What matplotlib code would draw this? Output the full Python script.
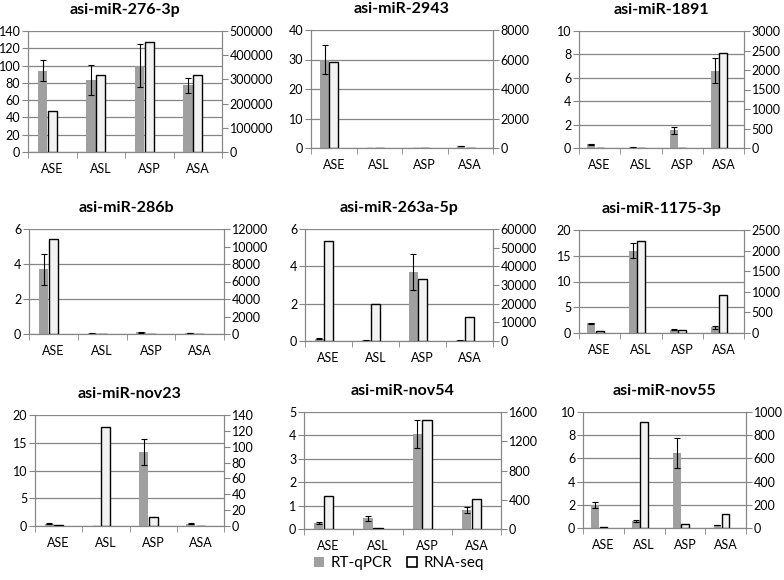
import numpy as np
import matplotlib
matplotlib.use('Agg')
import matplotlib.pyplot as plt
from matplotlib.patches import Patch

# Chart data
categories = ['ASE', 'ASL', 'ASP', 'ASA']
titles = ['asi-miR-276-3p', 'asi-miR-2943', 'asi-miR-1891',
          'asi-miR-286b', 'asi-miR-263a-5p', 'asi-miR-1175-3p',
          'asi-miR-nov23', 'asi-miR-nov54', 'asi-miR-nov55']

qpcr = [[94, 83, 100, 77],
        [30, 0.1, 0.1, 0.7],
        [0.3, 0.05, 1.5, 6.6],
        [3.7, 0.03, 0.1, 0.04],
        [0.12, 0.03, 3.7, 0.03],
        [1.9, 16, 0.6, 1.1],
        [0.45, 0.05, 13.3, 0.45],
        [0.25, 0.45, 4.05, 0.8],
        [2.0, 0.6, 6.45, 0.25]]
qpcr_err = [[12, 17.5, 25, 8.5],
            [5, 0, 0, 0.1],
            [0.05, 0.01, 0.3, 1.05],
            [0.9, 0.01, 0.03, 0.01],
            [0.02, 0.01, 0.95, 0.01],
            [0.1, 1.5, 0.1, 0.3],
            [0.1, 0, 2.3, 0.1],
            [0.03, 0.12, 0.6, 0.12],
            [0.25, 0.12, 1.3, 0.03]]
rnaseq = [[170000, 320000, 453000, 318000],
          [5800, 0, 0, 0],
          [0, 0, 0, 2430],
          [10900, 0, 0, 0],
          [53500, 20000, 33000, 13000],
          [50, 2225, 80, 925],
          [1.2, 125, 11, 0.5],
          [450, 10, 1490, 405],
          [5, 910, 35, 125]]

# left axis (max, step) and right axis (max, step)
left_axis = [(140, 20), (40, 10), (10, 2), (6, 2), (6, 2), (20, 5), (20, 5), (5, 1), (10, 2)]
right_axis = [(500000, 100000), (8000, 2000), (3000, 500), (12000, 2000), (60000, 10000),
              (2500, 500), (140, 20), (1600, 400), (1000, 200)]

# axes boxes in pixels: x0, x1, y0 (top), y1 (bottom)
boxes = [(28, 222, 31, 152), (311, 493, 30, 148), (579, 744, 31, 148),
         (29, 224, 229, 334), (305, 493, 229, 341), (579, 744, 230, 333),
         (35, 224, 415, 526), (304, 501, 412, 529), (583, 746, 412, 528)]

W, H = 784, 580
plt.rcParams['font.family'] = ['Lato', 'DejaVu Sans']
fig = plt.figure(figsize=(W / 100, H / 100), dpi=100)

grey = '#a0a0a0'
axis_grey = '#868686'
x = np.arange(len(categories))

for i in range(9):
    x0, x1, y0, y1 = boxes[i]
    ax = fig.add_axes([x0 / W, (H - y1) / H, (x1 - x0) / W, (y1 - y0) / H])
    ax2 = ax.twinx()

    lmax, lstep = left_axis[i]
    rmax, rstep = right_axis[i]

    ax.bar(x - 0.2, qpcr[i], width=0.19, color=grey, zorder=3)
    ax.errorbar(x - 0.2, qpcr[i], yerr=qpcr_err[i], fmt='none', ecolor='black',
                elinewidth=0.8, capsize=2.5, capthick=0.8, zorder=4)
    ax2.bar(x, rnaseq[i], width=0.19, color='#f2f2f2', edgecolor='black', linewidth=1, zorder=3)

    ax.set_xlim(-0.5, 3.5)
    ax.set_ylim(0, lmax)
    ax.set_yticks(np.arange(0, lmax + lstep / 2, lstep))
    ax2.set_ylim(0, rmax)
    ax2.set_yticks(np.arange(0, rmax + rstep / 2, rstep))
    ax.yaxis.grid(True, color=axis_grey, linewidth=0.9, zorder=0)
    ax.set_axisbelow(True)

    ax.set_xticks(x)
    ax.set_xticklabels(categories)
    ax.set_xticks(np.arange(-0.5, 4, 1), minor=True)
    ax.tick_params(axis='x', which='major', length=0, labelsize=9, pad=8)
    ax.tick_params(axis='x', which='minor', length=4, color=axis_grey)
    ax.tick_params(axis='y', length=4, color=axis_grey, labelsize=9, pad=1.5)
    ax2.tick_params(axis='y', length=4, color=axis_grey, labelsize=9, pad=1.5)

    for a in (ax, ax2):
        a.spines['top'].set_visible(False)
        for s in ('left', 'right', 'bottom'):
            a.spines[s].set_color(axis_grey)

    ax.set_title(titles[i], fontsize=11.5, fontweight='bold', pad=12)

handles = [Patch(facecolor=grey, edgecolor='none', label='RT-qPCR'),
           Patch(facecolor='white', edgecolor='black', linewidth=1.2, label='RNA-seq')]
fig.legend(handles=handles, loc='center', bbox_to_anchor=(0.509, 1 - 563 / H), ncol=2,
           frameon=False, fontsize=11, handlelength=0.65, handleheight=0.65,
           handletextpad=0.4, columnspacing=1.0)

fig.savefig('out.png', dpi=100)
